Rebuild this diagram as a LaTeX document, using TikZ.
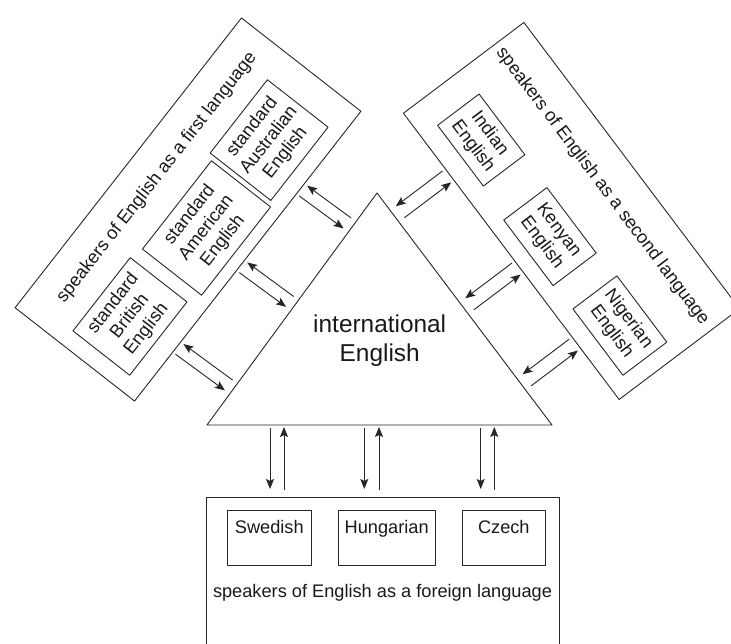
\documentclass[tikz,border=0pt]{standalone}
\usepackage{fontspec}
\setmainfont{Liberation Sans}
\usetikzlibrary{calc,arrows.meta}
\begin{document}
\begin{tikzpicture}[x=1pt,y=1pt,>={Stealth[length=10pt,width=8pt,inset=2pt]},line join=round,
  font=\fontsize{18.2}{21}\selectfont,text=black!90,
  ln/.style={line width=0.9pt,draw=black!85},
  box/.style={ln,inner sep=0pt,align=center}]
\useasboundingbox (0,0) rectangle (731,644);
\clip (0,0) rectangle (731,644);
% triangle
\path (377,451) coordinate (Ta) (207,219) coordinate (Tl) (552,219) coordinate (Tr);
\draw[ln] (Ta)--(Tl)--(Tr)--cycle;
\node[font=\fontsize{24.4}{29.3}\selectfont,align=center] (intl) at (379.7,303) {international\\English};
% first language
\node[box,rotate=52,minimum width=367.7,minimum height=151.6] (L) at (188,434.5) {};
\begin{scope}[shift={(L.center)},rotate=52]
\node[rotate=52] (Lt) at (6,44) {speakers of English as a first language};
\node[box,rotate=52,minimum width=93,minimum height=77] (aus) at (104.6,-21.2) {standard\\Australian\\English};
\node[box,rotate=52,minimum width=112,minimum height=75] (ame) at (-3.2,-26) {standard\\American\\English};
\node[box,rotate=52,minimum width=93,minimum height=72] (bri) at (-120,-20.1) {standard\\British\\English};
\end{scope}
% second language
\node[box,rotate=-53,minimum width=358.4,minimum height=150.8] (R) at (571.5,433) {};
\begin{scope}[shift={(R.center)},rotate=-53]
\node[rotate=-53] (Rt) at (-1,39.5) {speakers of English as a second language};
\node[box,rotate=-53,minimum width=76,minimum height=52] (ind) at (-111,-29.4) {Indian\\English};
\node[box,rotate=-53,minimum width=82,minimum height=54] (ken) at (7.5,-32.6) {Kenyan\\English};
\node[box,rotate=-53,minimum width=83,minimum height=55] (nig) at (120.6,-30.3) {Nigerian\\English};
\end{scope}
% foreign language
\node[box,anchor=north,minimum width=353,minimum height=170] (F) at (382.5,147) {};
\node (Ft) at (382.5,51.3) {speakers of English as a foreign language};
\foreach \n/\x/\w/\t in {swe/269.3/83.3/Swedish,hun/386.7/97.3/Hungarian,cze/503.8/83.7/Czech}
  \node[box,anchor=north,minimum width=\w,text height=13pt,text depth=22pt,inner ysep=10pt] (\n) at (\x,134) {\t};
% arrows to the boxes
\foreach \B/\s/\a/\b/\g in {L/Tl/0.1695/0.2045/6,L/Tl/0.4505/0.4855/6,L/Tl/0.7145/0.7495/6,
                           R/Tr/0.195/0.235/7,R/Tr/0.516/0.556/7,R/Tr/0.781/0.821/7}{
  \path ($(\B.south west)!\a!(\B.south east)$) coordinate (pa) ($(\s)!(pa)!(Ta)$) coordinate (qa)
        ($(\B.south west)!\b!(\B.south east)$) coordinate (pb) ($(\s)!(pb)!(Ta)$) coordinate (qb);
  \draw[ln,->,shorten <=3pt,shorten >=\g pt] (pa) -- (qa);
  \draw[ln,<-,shorten <=3pt,shorten >=\g pt] (pb) -- (qb);
}
\foreach \d/\u in {270/284,364.3/379,480.7/494.3}{
  \path ($(Tl)!(\d,0)!(Tr)$) coordinate (pa) ($(F.north west)!(\d,0)!(F.north east)$) coordinate (qa)
        ($(Tl)!(\u,0)!(Tr)$) coordinate (pb) ($(F.north west)!(\u,0)!(F.north east)$) coordinate (qb);
  \draw[ln,->,shorten <=3pt,shorten >=8pt] (pa) -- (qa);
  \draw[ln,<-,shorten <=2pt,shorten >=7pt] (pb) -- (qb);
}
\end{tikzpicture}
\end{document}
